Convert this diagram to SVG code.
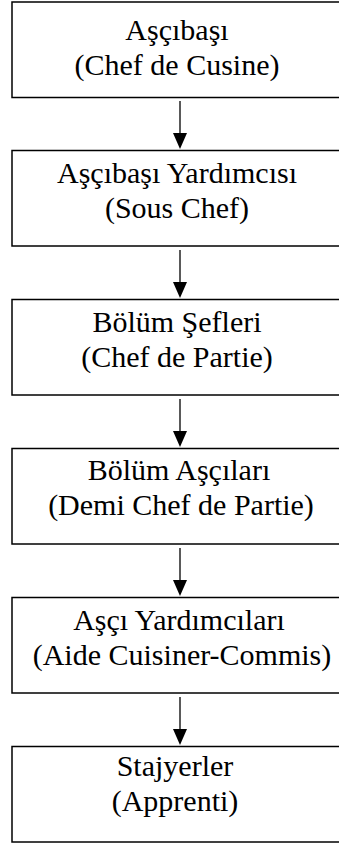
<svg xmlns="http://www.w3.org/2000/svg" width="339" height="843" viewBox="0 0 339 843">
<style>
.box{fill:#fff;stroke:#000;stroke-width:1.5}
.t{font-family:"Liberation Serif","Times New Roman",serif;font-size:30px;fill:#000;text-anchor:middle}
.c{stroke:#000;stroke-width:1.3;fill:none}
.h{fill:#000}
</style>
<rect width="339" height="843" fill="#fff"/>
<g id="n1"><rect class="box" x="12" y="2" width="340" height="95.5"/><text class="t" x="177" y="40">Aşçıbaşı</text><text class="t" x="177" y="75">(Chef de Cusine)</text></g>
<g id="n2"><rect class="box" x="12" y="150.5" width="340" height="95.5"/><text class="t" x="177" y="183">Aşçıbaşı Yardımcısı</text><text class="t" x="177" y="218">(Sous Chef)</text></g>
<g id="n3"><rect class="box" x="12" y="299.5" width="340" height="95.5"/><text class="t" x="177" y="332">Bölüm Şefleri</text><text class="t" x="177" y="367">(Chef de Partie)</text></g>
<g id="n4"><rect class="box" x="12" y="448.5" width="340" height="95.5"/><text class="t" x="179" y="480">Bölüm Aşçıları</text><text class="t" x="181" y="515">(Demi Chef de Partie)</text></g>
<g id="n5"><rect class="box" x="12" y="597.5" width="340" height="95.5"/><text class="t" x="179" y="630">Aşçı Yardımcıları</text><text class="t" x="182" y="665">(Aide Cuisiner-Commis)</text></g>
<g id="n6"><rect class="box" x="12" y="746.5" width="340" height="95.5"/><text class="t" x="175" y="776">Stajyerler</text><text class="t" x="175" y="811">(Apprenti)</text></g>
<g id="connectors">
<line class="c" x1="180" y1="101" x2="180" y2="134"/><polygon class="h" points="173,133 187,133 180,149"/>
<line class="c" x1="180" y1="250" x2="180" y2="283"/><polygon class="h" points="173,282 187,282 180,298"/>
<line class="c" x1="180" y1="399" x2="180" y2="432"/><polygon class="h" points="173,431 187,431 180,447"/>
<line class="c" x1="180" y1="548" x2="180" y2="581"/><polygon class="h" points="173,580 187,580 180,596"/>
<line class="c" x1="180" y1="697" x2="180" y2="730"/><polygon class="h" points="173,729 187,729 180,745"/>
</g>
</svg>
